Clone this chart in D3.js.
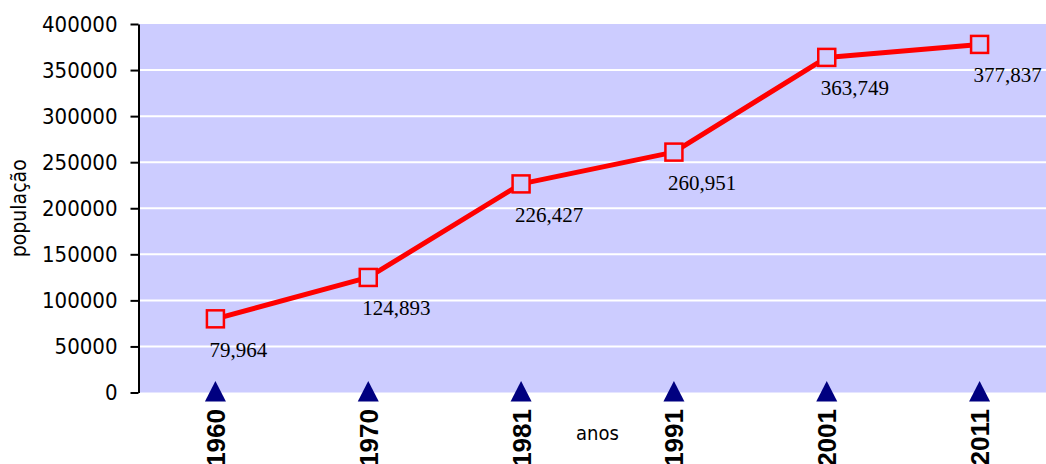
<!DOCTYPE html>
<html>
<head>
<meta charset="utf-8">
<script src="https://cdn.jsdelivr.net/npm/d3@7"></script>
<style>
  html, body { margin: 0; padding: 0; background: #ffffff; }
  svg { display: block; }
</style>
</head>
<body>
<svg id="chart" width="1046" height="464"></svg>
<script>
// Population by census year
const years = ["1960", "1970", "1981", "1991", "2001", "2011"];
const population = [79964, 124893, 226427, 260951, 363749, 377837];
const yTicks = [0, 50000, 100000, 150000, 200000, 250000, 300000, 350000, 400000];
const yTitle = "população";
const xTitle = "anos";

const svg = d3.select("#chart");
const plot = { left: 139, right: 1056, top: 24, bottom: 392.5 };
const sansFont = "'DejaVu Sans Condensed', 'DejaVu Sans', Verdana, sans-serif";

const x = d3.scaleBand().domain(years).range([plot.left, plot.right]).padding(0);
const cx = d => x(d) + x.bandwidth() / 2;
const y = d3.scaleLinear().domain([0, 400000]).range([plot.bottom, plot.top]);

// plot background
svg.append("rect")
  .attr("x", plot.left).attr("y", plot.top)
  .attr("width", plot.right - plot.left).attr("height", plot.bottom - plot.top)
  .attr("fill", "#ccccff");

// horizontal gridlines
svg.append("g").selectAll("line")
  .data(yTicks.filter(v => v > 0 && v < 400000))
  .join("line")
  .attr("x1", plot.left).attr("x2", plot.right)
  .attr("y1", d => y(d)).attr("y2", d => y(d))
  .attr("stroke", "#ffffff").attr("stroke-width", 2);

// y axis
const yAxis = svg.append("g")
  .attr("transform", `translate(${plot.left - 0.5},0)`)
  .call(d3.axisLeft(y).tickValues(yTicks).tickFormat(d3.format("d"))
    .tickSize(8).tickSizeOuter(0).tickPadding(13));
yAxis.select(".domain").attr("stroke", "#000").attr("stroke-width", 2);
yAxis.selectAll(".tick line").attr("stroke", "#000").attr("stroke-width", 2);
yAxis.selectAll(".tick text")
  .attr("font-family", sansFont)
  .attr("font-size", 22).attr("fill", "#000");

// axis titles
svg.append("text")
  .attr("transform", `translate(26,${(plot.top + plot.bottom) / 2}) rotate(-90)`)
  .attr("text-anchor", "middle")
  .attr("font-family", sansFont)
  .attr("font-size", 21).attr("fill", "#000")
  .text(yTitle);

svg.append("text")
  .attr("x", (plot.left + plot.right) / 2).attr("y", 440)
  .attr("text-anchor", "middle")
  .attr("font-family", sansFont)
  .attr("font-size", 20).attr("fill", "#000")
  .text(xTitle);

// category markers along the baseline
svg.append("g").selectAll("path")
  .data(years)
  .join("path")
  .attr("d", d => {
    const px = cx(d), py = y(0);
    return `M${px},${py - 11.5} L${px + 10.5},${py + 9} L${px - 10.5},${py + 9} Z`;
  })
  .attr("fill", "#000080");

// year labels, rotated
svg.append("g").selectAll("text")
  .data(years)
  .join("text")
  .attr("transform", d => `translate(${cx(d) + 9.5},409) rotate(-90)`)
  .attr("text-anchor", "end")
  .attr("font-family", "'Liberation Sans', Arial, sans-serif")
  .attr("font-weight", "bold")
  .attr("font-size", 26).attr("fill", "#000")
  .text(d => d);

// population line
const pts = years.map((yr, i) => ({ year: yr, value: population[i] }));
svg.append("path")
  .datum(pts)
  .attr("d", d3.line().x(d => cx(d.year)).y(d => y(d.value)))
  .attr("fill", "none")
  .attr("stroke", "#ff0000")
  .attr("stroke-width", 5)
  .attr("stroke-linejoin", "round");

// square markers
svg.append("g").selectAll("rect")
  .data(pts)
  .join("rect")
  .attr("x", d => cx(d.year) - 8.5).attr("y", d => y(d.value) - 8.5)
  .attr("width", 17).attr("height", 17)
  .attr("fill", "#ccccff")
  .attr("stroke", "#ff0000").attr("stroke-width", 2.5);

// value labels
svg.append("g").selectAll("text")
  .data(pts)
  .join("text")
  .attr("x", d => cx(d.year) - 6).attr("y", d => y(d.value) + 38)
  .attr("font-family", "'Liberation Serif', 'Times New Roman', serif")
  .attr("font-size", 21).attr("fill", "#000")
  .text(d => d3.format(",")(d.value));
</script>
</body>
</html>
